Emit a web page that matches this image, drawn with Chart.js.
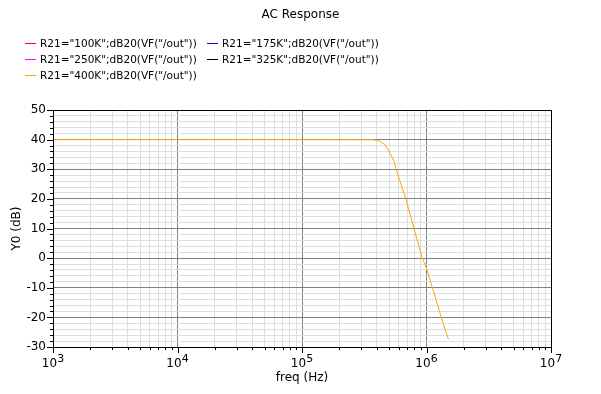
<!DOCTYPE html>
<html>
<head>
<meta charset="utf-8">
<script src="https://cdn.jsdelivr.net/npm/chart.js@4"></script>
<style>
  body { margin: 0; background: #fff; }
  canvas { display: block; }
</style>
</head>
<body>
<canvas id="chart" width="601" height="394"></canvas>
<script>
// series names / colours as in the legend
const seriesNames = [
  'R21="100K";dB20(VF("/out"))',
  'R21="175K";dB20(VF("/out"))',
  'R21="250K";dB20(VF("/out"))',
  'R21="325K";dB20(VF("/out"))',
  'R21="400K";dB20(VF("/out"))',
];
const seriesColors = ["#ff0000", "#0000ff", "#ff00ff", "#000000", "#ffa500"];

// only the 400K trace is visible in the picture
const freq400 = [1e3, 1e4, 1e5, 3.7e5, 4.1e5, 4.64e5, 5.09e5, 5.51e5, 5.69e5, 6.8e5, 7.94e5, 9.25e5, 1e6, 1.11e6, 1.31e6, 1.5e6];
const db400 = [40, 40, 40, 39.95, 39.7, 38.4, 35.4, 32.6, 30, 20.2, 10, 0, -3.4, -9.6, -19.8, -27.4];

// axis ticks
const xDecades = [1e3, 1e4, 1e5, 1e6, 1e7];
const xMinorSteps = [2, 3, 4, 5, 6, 7, 8, 9];
const yMajor = [-30, -20, -10, 0, 10, 20, 30, 40, 50];
const yStep = 2;

const FONT = "DejaVu Sans";

const xTickValues = [];
xDecades.forEach((d, i) => {
  xTickValues.push(d);
  if (i < xDecades.length - 1) xMinorSteps.forEach((m) => xTickValues.push(d * m));
});
const yTickValues = [];
for (let v = yMajor[0]; v <= yMajor[yMajor.length - 1]; v += yStep) yTickValues.push(v);

const isDecade = (v) => Math.abs(Math.log10(v) - Math.round(Math.log10(v))) < 1e-9;

const datasets = seriesNames.map((name, i) => ({
  label: name,
  data: i === 4 ? freq400.map((f, k) => ({ x: f, y: db400[k] })) : [],
  borderColor: seriesColors[i],
  backgroundColor: seriesColors[i],
  borderWidth: 1,
  pointRadius: 0,
  tension: 0,
}));

// title, legend, frame, ticks and axis labels
const decorPlugin = {
  id: "decor",
  afterDraw(chart) {
    const ctx = chart.ctx;
    const area = chart.chartArea;
    const xs = chart.scales.x;
    const ys = chart.scales.y;
    ctx.save();

    // frame
    ctx.strokeStyle = "#000";
    ctx.lineWidth = 1;
    ctx.strokeRect(Math.round(area.left) + 0.5, Math.round(area.top) + 0.5,
      Math.round(area.right - area.left), Math.round(area.bottom - area.top));

    // tick marks
    ctx.beginPath();
    yTickValues.forEach((v) => {
      const y = Math.round(ys.getPixelForValue(v)) + 0.5;
      const len = yMajor.includes(v) ? 6 : 3;
      ctx.moveTo(area.left - len, y);
      ctx.lineTo(area.left, y);
    });
    xTickValues.forEach((v) => {
      const x = Math.round(xs.getPixelForValue(v)) + 0.5;
      const len = isDecade(v) ? 6 : 3;
      ctx.moveTo(x, area.bottom);
      ctx.lineTo(x, area.bottom + len);
    });
    ctx.stroke();

    ctx.fillStyle = "#000";
    ctx.textBaseline = "alphabetic";

    // x tick labels 10^n
    xDecades.forEach((d) => {
      const x = xs.getPixelForValue(d);
      const exp = String(Math.round(Math.log10(d)));
      ctx.font = "12px " + FONT;
      const wb = ctx.measureText("10").width;
      ctx.font = "11px " + FONT;
      const we = ctx.measureText(exp).width;
      const x0 = x - (wb + we) / 2;
      ctx.font = "12px " + FONT;
      ctx.textAlign = "left";
      ctx.fillText("10", x0, 367);
      ctx.font = "11px " + FONT;
      ctx.fillText(exp, x0 + wb, 362);
    });

    // title
    ctx.font = "12px " + FONT;
    ctx.textAlign = "center";
    ctx.fillText("AC Response", 300.5, 18);

    // axis titles
    ctx.textBaseline = "middle";
    ctx.fillText("freq (Hz)", (area.left + area.right) / 2, 378);
    ctx.save();
    ctx.translate(17, (area.top + area.bottom) / 2);
    ctx.rotate(-Math.PI / 2);
    ctx.fillText("Y0 (dB)", 0, 0);
    ctx.restore();

    // legend
    ctx.font = "10.5px " + FONT;
    ctx.textAlign = "left";
    ctx.textBaseline = "alphabetic";
    chart.data.datasets.forEach((ds, i) => {
      const col = i % 2;
      const row = Math.floor(i / 2);
      const lx = col === 0 ? 25 : 207;
      const ly = 43 + row * 16;
      ctx.strokeStyle = ds.borderColor;
      ctx.beginPath();
      ctx.moveTo(lx, ly + 0.5);
      ctx.lineTo(lx + 11, ly + 0.5);
      ctx.stroke();
      ctx.fillText(ds.label, lx + 15, ly + 4);
    });

    ctx.restore();
  },
};

new Chart(document.getElementById("chart"), {
  type: "line",
  data: { datasets },
  options: {
    responsive: false,
    animation: false,
    parsing: true,
    layout: { padding: { top: 110, right: 50, left: 0, bottom: 0 } },
    plugins: { legend: { display: false }, title: { display: false }, tooltip: { enabled: false } },
    scales: {
      x: {
        type: "logarithmic",
        min: xDecades[0],
        max: xDecades[xDecades.length - 1],
        afterBuildTicks: (scale) => {
          scale.ticks = xTickValues.map((v) => ({ value: v }));
        },
        afterFit: (scale) => { scale.height = 47; },
        ticks: { display: false },
        grid: {
          drawTicks: false,
          color: (c) => (c.tick && isDecade(c.tick.value) ? "#808080" : "#dddddd"),
        },
        border: { display: false },
      },
      y: {
        type: "linear",
        min: yMajor[0],
        max: yMajor[yMajor.length - 1],
        afterBuildTicks: (scale) => {
          scale.ticks = yTickValues.map((v) => ({ value: v }));
        },
        afterFit: (scale) => { scale.width = 53; },
        ticks: {
          autoSkip: false,
          padding: 7,
          color: "#000",
          font: { family: FONT, size: 12 },
          callback: (v) => (yMajor.includes(v) ? String(v) : ""),
        },
        grid: {
          drawTicks: false,
          color: (c) => (c.tick && yMajor.includes(c.tick.value) ? "#808080" : "#dddddd"),
        },
        border: { display: false },
      },
    },
  },
  plugins: [decorPlugin],
});
</script>
</body>
</html>
